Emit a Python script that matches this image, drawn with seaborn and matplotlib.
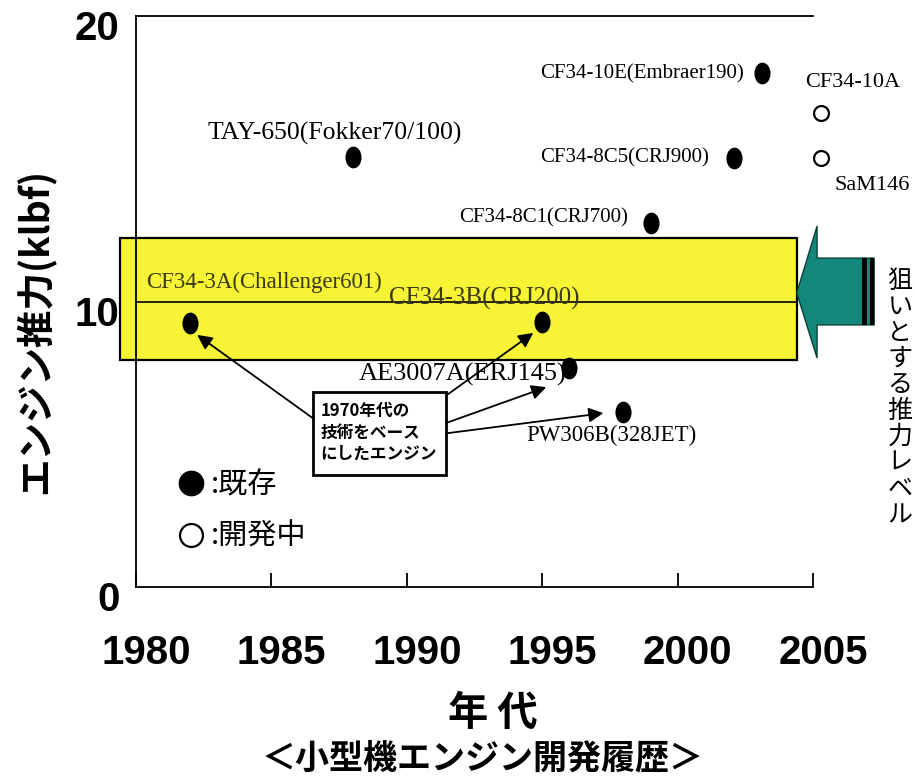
import matplotlib
matplotlib.use("Agg")
import matplotlib.pyplot as plt
import matplotlib.transforms as mtransforms
from matplotlib.patches import Rectangle, Polygon
from matplotlib.lines import Line2D
from matplotlib.path import Path
import seaborn as sns
import pandas as pd

# ---------------- data ----------------
engines = ["CF34-3A(Challenger601)", "TAY-650(Fokker70/100)", "CF34-3B(CRJ200)",
           "AE3007A(ERJ145)", "PW306B(328JET)", "CF34-8C1(CRJ700)",
           "CF34-8C5(CRJ900)", "CF34-10E(Embraer190)", "CF34-10A", "SaM146"]
years = [1982.0, 1988.0, 1995.0, 1996.0, 1998.0, 1999.0, 2002.1, 2003.1, 2005.3, 2005.3]
thrust = [9.25, 15.05, 9.28, 7.67, 6.13, 12.75, 15.03, 18.0, 16.6, 15.03]
status = ["既存", "既存", "既存", "既存", "既存", "既存", "既存", "既存", "開発中", "開発中"]
based_on_1970s = ["CF34-3A(Challenger601)", "CF34-3B(CRJ200)", "AE3007A(ERJ145)", "PW306B(328JET)"]

x_ticks = [1980, 1985, 1990, 1995, 2000, 2005]
y_ticks = [0, 10, 20]
target_low, target_high = 7.95, 12.22   # target thrust band (klbf)
target_line = 10

# label placement (style)
label_x = [1980.37, 1982.63, 1989.33, 1988.22, 1994.41, 1998.15, 2001.15, 2002.44, 2004.70, 2005.81]
label_y = [10.68, 15.87, 10.09, 7.46, 5.32, 12.92, 15.03, 17.99, 17.67, 14.08]
label_ha = ["left", "left", "left", "left", "left", "right", "right", "right", "left", "left"]
label_fs = [16.5, 18.5, 18, 19, 16.5, 15, 15, 15, 16, 16]

df = pd.DataFrame({"engine": engines, "year": years, "thrust": thrust, "status": status})

# ---------------- figure ----------------
sns.set_style("ticks")
plt.rcParams["font.family"] = ["Liberation Sans", "Noto Sans CJK JP", "DejaVu Sans"]
plt.rcParams["text.color"] = "black"
plt.rcParams["axes.labelcolor"] = "black"
plt.rcParams["xtick.color"] = "black"
plt.rcParams["ytick.color"] = "black"
plt.rcParams["axes.edgecolor"] = "black"
JP = ["Noto Sans CJK JP", "DejaVu Sans"]
SERIF = ["Liberation Serif", "Noto Sans CJK JP"]

W, H = 915, 777
fig = plt.figure(figsize=(W / 100, H / 100), dpi=100)
L, R, T, B = 136, 813, 16, 587
ax = fig.add_axes([L / W, 1 - B / H, (R - L) / W, (B - T) / H])
ax.set_xlim(1980, 2005)
ax.set_ylim(0, 20)

# target band
ax.add_patch(Rectangle((1979.4, target_low), 2004.4 - 1979.4, target_high - target_low,
                       facecolor="#f6f435", edgecolor="black", lw=1.6, clip_on=False, zorder=1))
ax.plot([1980, 2004.4], [target_line, target_line], color="black", lw=1.2, zorder=2)

# teal arrow
arrow = [(2004.4, 10.3), (2005.15, 12.64), (2005.15, 11.52), (2007.26, 11.52),
         (2007.26, 9.18), (2005.15, 9.18), (2005.15, 8.02)]
ax.add_patch(Polygon(arrow, closed=True, facecolor="#12877a", edgecolor="#0b3f38",
                     lw=1.0, clip_on=False, zorder=3))
ax.add_patch(Rectangle((2006.82, 9.18), 0.18, 11.52 - 9.18, facecolor="black",
                       edgecolor="none", clip_on=False, zorder=4))
ax.add_patch(Rectangle((2007.1, 9.18), 0.16, 11.52 - 9.18, facecolor="black",
                       edgecolor="none", clip_on=False, zorder=4))

# points
ellipse = Path.unit_circle().transformed(mtransforms.Affine2D().scale(0.72, 1.0))
sns.scatterplot(data=df[df.status == "既存"], x="year", y="thrust", marker=ellipse,
                color="black", edgecolor="black", s=210, ax=ax, legend=False,
                clip_on=False, zorder=6)
sns.scatterplot(data=df[df.status == "開発中"], x="year", y="thrust", marker="o",
                facecolor="white", edgecolor="black", linewidth=1.6, s=115, ax=ax,
                legend=False, clip_on=False, zorder=6)

# labels
for name, lx, ly, ha, fs in zip(engines, label_x, label_y, label_ha, label_fs):
    col = "#3a3914" if name in ("CF34-3A(Challenger601)", "CF34-3B(CRJ200)") else "black"
    ax.text(lx, ly, name, ha=ha, va="center", fontsize=fs, family=SERIF, color=col,
            zorder=5, clip_on=False)

# annotation box
bx0, bx1, by0, by1 = 1986.55, 1991.44, 3.92, 6.83
ax.add_patch(Rectangle((bx0, by0), bx1 - bx0, by1 - by0, facecolor="white",
                       edgecolor="black", lw=2.0, zorder=7))
ax.text(bx0 + 0.27, by1 - 0.35, "1970年代の\n技術をベース\nにしたエンジン", ha="left", va="top",
        fontsize=12, family=JP, fontweight="bold", linespacing=1.25, zorder=8)
starts = {"CF34-3A(Challenger601)": (1986.52, 5.92), "CF34-3B(CRJ200)": (1991.37, 6.65),
          "AE3007A(ERJ145)": (1991.44, 5.74), "PW306B(328JET)": (1991.52, 5.39)}
tips = {"CF34-3A(Challenger601)": (1982.26, 8.83), "CF34-3B(CRJ200)": (1994.67, 8.9),
        "AE3007A(ERJ145)": (1995.15, 7.0), "PW306B(328JET)": (1997.26, 6.09)}
for name in based_on_1970s:
    ax.annotate("", xy=tips[name], xytext=starts[name],
                arrowprops=dict(arrowstyle="-|>", color="black", lw=1.3,
                                mutation_scale=22, shrinkA=0, shrinkB=0), zorder=6)

# legend
handles = [Line2D([], [], marker="o", ls="none", markersize=17.5, markerfacecolor="black",
                  markeredgecolor="black"),
           Line2D([], [], marker="o", ls="none", markersize=16.5, markerfacecolor="white",
                  markeredgecolor="black", markeredgewidth=1.6)]
leg = ax.legend(handles, [":既存", ":開発中"], loc="upper left",
                bbox_to_anchor=(176 / W, 1 - 470 / H), bbox_transform=fig.transFigure,
                frameon=False, borderpad=0, borderaxespad=0, handlelength=1.0,
                handletextpad=0.2, labelspacing=0.75, prop={"family": JP, "size": 21})

# axes styling
ax.spines["right"].set_visible(False)
for s in ("top", "left", "bottom"):
    ax.spines[s].set_linewidth(1.3)
    ax.spines[s].set_color("black")
ax.set_xticks(x_ticks)
ax.set_xticklabels([str(v) for v in x_ticks])
ax.set_yticks(y_ticks)
ax.set_yticklabels([str(v) for v in y_ticks])
ax.tick_params(axis="x", direction="in", length=10, width=1.3, pad=34, labelsize=29,
               colors="black")
ax.tick_params(axis="y", length=0, pad=12, labelsize=29, colors="black")
for lab in ax.get_xticklabels() + ax.get_yticklabels():
    lab.set_fontweight("bold")
dx = mtransforms.ScaledTranslation(10 / 100, 0, fig.dpi_scale_trans)
for lab in ax.get_xticklabels():
    lab.set_transform(lab.get_transform() + dx)
dy = mtransforms.ScaledTranslation(0, -9 / 100, fig.dpi_scale_trans)
for lab in ax.get_yticklabels():
    lab.set_transform(lab.get_transform() + dy)

ax.set_ylabel("エンジン推力(klbf)", family=JP, fontweight="bold", fontsize=27, color="black")
ax.yaxis.set_label_coords(-0.12, 0.448)
ax.set_xlabel("年 代", family=JP, fontweight="bold", fontsize=29, color="black")
ax.xaxis.set_label_coords(0.527, -0.185)

fig.text(483 / W, 1 - 759 / H, "＜小型機エンジン開発履歴＞", ha="center", va="center",
         family=JP, fontweight="bold", fontsize=24.5, color="black")
fig.text(900 / W, 1 - 268 / H, "\n".join("狙いとする推力レベル"), ha="center", va="top",
         family=JP, fontsize=18, linespacing=1.0, multialignment="center", color="black")

fig.savefig("out.png", dpi=100)
